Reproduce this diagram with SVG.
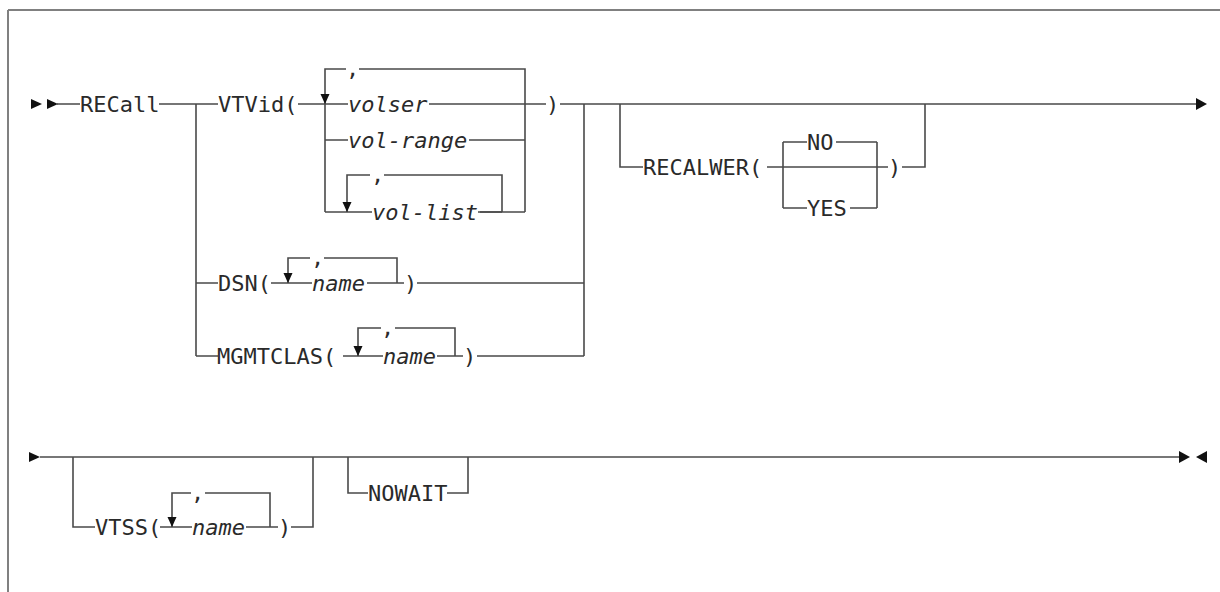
<svg xmlns="http://www.w3.org/2000/svg" width="1220" height="592" viewBox="0 0 1220 592">
<style>
.t{font-family:"DejaVu Sans Mono","Liberation Mono",monospace;font-size:22px;fill:#2a2a2a}
.i{font-style:italic}
.c path{fill:none;stroke:#4a4a4a;stroke-width:1.6}
.a{fill:#111}
</style>
<rect width="1220" height="592" fill="#fff"/>
<path d="M8,10H1220M8,10V592" fill="none" stroke="#808080" stroke-width="2"/>
<g id="connectors" class="c">
<path d="M57,104H80M159,104H218M298,104H348M429,104H546M560,104H1198"/>
<path d="M196,104V356M196,283H218M196,356H218"/>
<path d="M325,212V69H346M359,69H525V212M325,140H348M469,140H525M325,212H372M480,212H525"/>
<path d="M347,212V175H370M384,175H502V212M478,212H502"/>
<path d="M584,104V356M271,283H312M288,283V258H310M324,258H397V283M367,283H404M417,283H584"/>
<path d="M343,356H383M358,356V328H381M395,328H455V356M437,356H463M477,356H584"/>
<path d="M620,104V167H643M767,167H888M783,142V208M783,142H807M836,142H877M783,208H807M850,208H877M877,142V208M902,167H925V104"/>
<path d="M40,457H1180"/>
<path d="M73,457V527H95M160,527H192M172,527V493H191M205,493H270V527M246,527H278M291,527H313V457"/>
<path d="M348,457V493H368M447,493H468V457"/>
</g>
<g id="arrows" class="a">
<polygon points="31,99 42,104 31,109"/>
<polygon points="47,99 58,104 47,109"/>
<polygon points="1196,98 1207,104 1196,110"/>
<polygon points="29,452 40,457 29,462"/>
<polygon points="1179,451 1190,457 1179,463"/>
<polygon points="1207,451 1196,457 1207,463"/>
<polygon points="320.5,94 329.5,94 325,104"/>
<polygon points="342.5,202 351.5,202 347,212"/>
<polygon points="283.5,273 292.5,273 288,283"/>
<polygon points="353.5,346 362.5,346 358,356"/>
<polygon points="167.5,517 176.5,517 172,527"/>
</g>
<g id="recall"><text class="t" x="80" y="112">RECall</text></g>
<g id="vtvid"><text class="t" x="218" y="112">VTVid(</text><text class="t" x="546" y="112">)</text></g>
<g id="vtvid-sep"><text class="t" x="346" y="76">,</text></g>
<g id="volser"><text class="t i" x="348" y="112">volser</text></g>
<g id="vol-range"><text class="t i" x="348" y="148">vol-range</text></g>
<g id="vol-list"><text class="t" x="371" y="182">,</text><text class="t i" x="372" y="220">vol-list</text></g>
<g id="dsn"><text class="t" x="218" y="291">DSN(</text><text class="t" x="311" y="265">,</text><text class="t i" x="312" y="291">name</text><text class="t" x="404" y="291">)</text></g>
<g id="mgmtclas"><text class="t" x="217" y="364">MGMTCLAS(</text><text class="t" x="381" y="335">,</text><text class="t i" x="383" y="364">name</text><text class="t" x="463" y="364">)</text></g>
<g id="recalwer"><text class="t" x="643" y="175">RECALWER(</text><text class="t" x="888" y="175">)</text></g>
<g id="no"><text class="t" x="807" y="150">NO</text></g>
<g id="yes"><text class="t" x="807" y="216">YES</text></g>
<g id="vtss"><text class="t" x="95" y="535">VTSS(</text><text class="t" x="191" y="500">,</text><text class="t i" x="192" y="535">name</text><text class="t" x="278" y="535">)</text></g>
<g id="nowait"><text class="t" x="368" y="501">NOWAIT</text></g>
</svg>
